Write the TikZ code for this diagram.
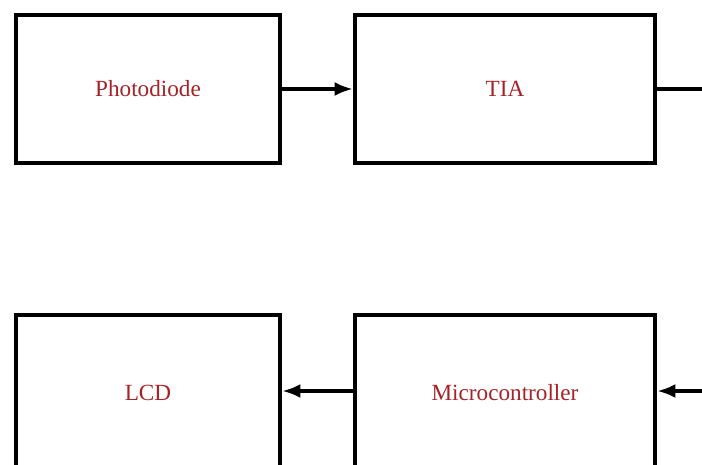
\documentclass[tikz,border=0pt]{standalone}
\usepackage{fontspec}
\setmainfont{Liberation Serif}
\usetikzlibrary{arrows.meta}
\begin{document}
\begin{tikzpicture}[
  block/.style={draw=black, line width=3pt, minimum height=3.7cm, inner sep=0pt,
    font=\fontsize{16.5}{18}\selectfont, text=blocktext},
  link/.style={line width=2.6pt, -{Latex[length=13pt,width=10pt]}}
]
\definecolor{blocktext}{RGB}{165,35,40}
\useasboundingbox (0,0) rectangle (17.55,-11.6);
\clip (0,0) rectangle (17.55,-11.6);
\node[block, minimum width=6.6cm] (diode) at (3.7,-2.225) {Photodiode};
\node[block, minimum width=7.5cm] (tia) at (12.625,-2.225) {TIA};
\node[block, minimum width=6.6cm, minimum height=3.9cm] (lcd) at (3.7,-9.825) {LCD};
\node[block, minimum width=7.5cm, minimum height=3.9cm] (mcu) at (12.625,-9.825) {Microcontroller};
\coordinate (tiaout) at (17.6,-2.225);
\coordinate (mcuin) at (17.6,-9.775);
\draw[link] (diode.east) -- (tia.west);
\draw[line width=2.6pt] (tia.east) -- (tiaout);
\draw[link] (mcuin) -- ([yshift=0.05cm]mcu.east);
\draw[link] ([yshift=0.05cm]mcu.west) -- ([yshift=0.05cm]lcd.east);
\end{tikzpicture}
\end{document}
